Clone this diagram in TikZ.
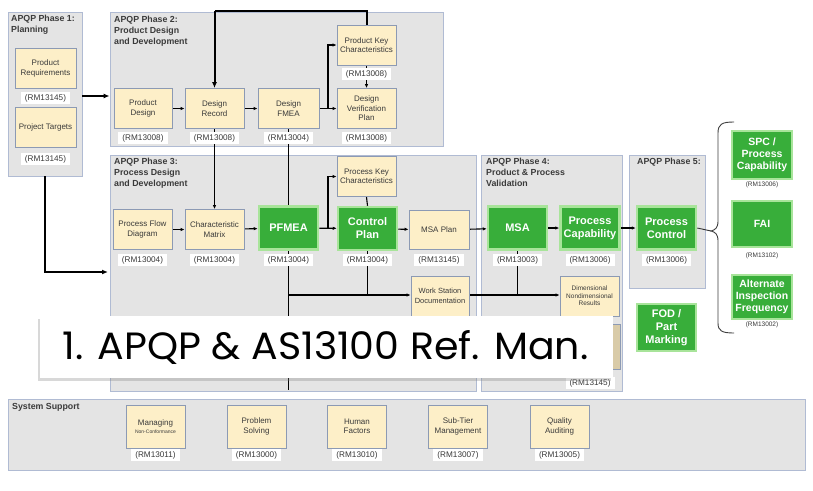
\documentclass[tikz,border=0pt]{standalone}
\usepackage{fontspec}
\setmainfont{Liberation Sans}
\newfontfamily\gothic{Poppins}
\usetikzlibrary{arrows.meta,shadows,calc}
\pgfdeclarelayer{paper}
\pgfdeclarelayer{back}
\pgfdeclarelayer{mid}
\pgfsetlayers{paper,back,mid,main}

\definecolor{panelfill}{HTML}{E4E4E4}
\definecolor{panelline}{HTML}{B0BBD3}
\definecolor{tanfill}{HTML}{FDEFC8}
\definecolor{tandark}{HTML}{D9CBA8}
\definecolor{tanline}{HTML}{8C9AB4}
\definecolor{gbox}{HTML}{38AE3A}
\definecolor{gglow}{HTML}{A8E49A}
\definecolor{txt}{HTML}{3A3A3A}

\begin{document}
\begin{tikzpicture}[x=1pt,y=-1pt,
  panel/.style={draw=panelline, fill=panelfill, line width=0.9pt, inner sep=0},
  ptitle/.style={anchor=north west, align=left, font=\fontsize{8.8}{11}\selectfont\bfseries, text=txt, inner sep=0},
  tbox/.style={draw=tanline, fill=tanfill, line width=0.8pt, align=center, inner sep=0,
    font=\fontsize{8}{9.5}\selectfont, text=txt, minimum width=59, minimum height=40},
  gbx/.style={draw=gglow, line width=2.5pt, fill=gbox, align=center, inner sep=0,
    font=\fontsize{11}{13}\selectfont\bfseries, text=white, minimum width=59, minimum height=43},
  rbx/.style={gbx, font=\fontsize{10.5}{12}\selectfont\bfseries, minimum width=60},
  rm/.style={fill=white, inner xsep=4pt, inner ysep=2pt, font=\fontsize{8.2}{9}\selectfont, text=txt},
  rms/.style={inner sep=0.5pt, font=\fontsize{6.5}{8}\selectfont, text=txt},
  link/.style={line width=1.1pt, -{Latex[length=4pt,width=3.5pt]}},
  plain/.style={line width=1.1pt},
  heavy/.style={line width=2pt, -{Latex[length=6pt,width=5pt]}},
  heavyline/.style={line width=2pt},
]
\begin{pgfonlayer}{paper}
  \fill[white] (0,0) rectangle (813,490);
\end{pgfonlayer}
\useasboundingbox (0,0) rectangle (813,490);

% ---------- phase panels ----------
\begin{pgfonlayer}{back}
  \node[panel, minimum width=74, minimum height=164] (p1) at (45,94) {};
  \node[panel, minimum width=333, minimum height=134] (p2) at (276.5,79) {};
  \node[panel, minimum width=366, minimum height=236] (p3) at (293,273) {};
  \node[panel, minimum width=141, minimum height=236] (p4) at (551.5,273) {};
  \node[panel, minimum width=76, minimum height=133] (p5) at (667,221.5) {};
  \node[panel, minimum width=797, minimum height=71] (ps) at (406.5,434.5) {};
\end{pgfonlayer}

\node[ptitle] (t1) at (11,15) {APQP Phase 1:\\Planning};
\node[ptitle] (t2) at (114,16) {APQP Phase 2:\\Product Design\\and Development};
\node[ptitle] (t3) at (114,158) {APQP Phase 3:\\Process Design\\and Development};
\node[ptitle] (t4) at (486,158) {APQP Phase 4:\\Product \& Process\\Validation};
\node[ptitle] (t5) at (637,158) {APQP Phase 5:};
\node[ptitle] (ts) at (12,403) {System Support};

% ---------- phase 1 ----------
\node[tbox, minimum width=61] (preq) at (45.5,68.5) {Product\\Requirements};
\node[rm] (preqL) at (45.5,98) {(RM13145)};
\node[tbox, minimum width=61] (ptar) at (45.5,127.5) {Project Targets};
\node[rm] (ptarL) at (45.5,159) {(RM13145)};

% ---------- phase 2 ----------
\node[tbox, minimum width=58] (pd) at (143,108.5) {Product\\Design};
\node[rm] (pdL) at (143,138) {(RM13008)};
\node[tbox] (dr) at (214.5,108.5) {Design\\Record};
\node[rm] (drL) at (214.5,138) {(RM13008)};
\node[tbox, minimum width=61] (dfm) at (288.5,108.5) {Design\\FMEA};
\node[rm] (dfmL) at (288.5,138) {(RM13004)};
\node[tbox] (pkc) at (366.5,45) {Product Key\\Characteristics};
\node[rm] (pkcL) at (366.5,74) {(RM13008)};
\node[tbox] (dvp) at (366.5,108.5) {Design\\Verification\\Plan};
\node[rm] (dvpL) at (366.5,138) {(RM13008)};

% ---------- phase 3 ----------
\node[tbox] (pfd) at (142.5,229.5) {Process Flow\\Diagram};
\node[rm] (pfdL) at (142.5,260) {(RM13004)};
\node[tbox] (cm) at (214.5,229.5) {Characteristic\\Matrix};
\node[rm] (cmL) at (214.5,260) {(RM13004)};
\node[gbx] (pfmea) at (288.5,228) {PFMEA};
\node[rm] (pfmeaL) at (288.5,260) {(RM13004)};
\node[gbx] (cp) at (367.5,228.5) {Control\\Plan};
\node[rm] (cpL) at (367.5,260) {(RM13004)};
\node[tbox] (prkc) at (366.5,176.5) {Process Key\\Characteristics};
\node[tbox, minimum width=60, minimum height=39] (msap) at (439,230) {MSA Plan};
\node[rm] (msapL) at (439,260) {(RM13145)};
\node[tbox, minimum width=58, font=\fontsize{7.5}{9.5}\selectfont] (wsd) at (440,296) {Work Station\\Documentation};

% ---------- phase 4 ----------
\node[gbx] (msa) at (517.5,228) {MSA};
\node[rm] (msaL) at (517.5,260) {(RM13003)};
\node[gbx] (pcap) at (590,228) {Process\\Capability};
\node[rm] (pcapL) at (590,260) {(RM13006)};
\node[tbox, font=\fontsize{6.5}{7.5}\selectfont] (dnr) at (589.5,296) {Dimensional\\Nondimensional\\Results};
\node[tbox, fill=tandark, minimum width=60, minimum height=45] (hid) at (590,347) {};
\node[rm] (hidL) at (590,383) {(RM13145)};

% ---------- phase 5 and outputs ----------
\node[gbx] (pctl) at (666.5,228) {Process\\Control};
\node[rm] (pctlL) at (666.5,260) {(RM13006)};
\node[gbx, minimum height=47] (fod) at (666.5,327.5) {FOD /\\Part\\Marking};

\node[rbx, minimum height=48] (spc) at (762,155) {SPC /\\Process\\Capability};
\node[rms] (spcL) at (762,185) {(RM13006)};
\node[rbx, minimum height=46] (fai) at (762,224) {FAI};
\node[rms] (faiL) at (762,256) {(RM13102)};
\node[rbx, minimum height=44] (aif) at (762,297) {Alternate\\Inspection\\Frequency};
\node[rms] (aifL) at (762,325) {(RM13002)};

% ---------- system support ----------
\node[tbox, minimum height=43] (s1) at (155.5,426.5) {Managing\\[-1pt]{\fontsize{5}{6}\selectfont Non-Conformance}};
\node[rm] (s1L) at (155.5,455) {(RM13011)};
\node[tbox, minimum height=43] (s2) at (256.5,426.5) {Problem\\Solving};
\node[rm] (s2L) at (256.5,455) {(RM13000)};
\node[tbox, minimum height=43] (s3) at (357,426.5) {Human\\Factors};
\node[rm] (s3L) at (357,455) {(RM13010)};
\node[tbox, minimum height=43] (s4) at (458,426.5) {Sub-Tier\\Management};
\node[rm] (s4L) at (458,455) {(RM13007)};
\node[tbox, minimum height=43] (s5) at (559.5,426.5) {Quality\\Auditing};
\node[rm] (s5L) at (559.5,455) {(RM13005)};

% ---------- free ends of connectors ----------
\coordinate (top) at (366.5,11);
\coordinate (p3in) at (108,272);
\coordinate (b1) at (328,108.5);
\coordinate (b2) at (328,228.5);
\coordinate (down) at (288.5,390);
\coordinate (j1) at (367.5,295);
\coordinate (j2) at (517.5,295);
\coordinate (tip) at (711,231);

% ---------- connectors ----------
\begin{pgfonlayer}{mid}
  \draw[heavy] (p1.east |- 0,96) -- (p2.west |- 0,96);
  \draw[heavy] (p1.south) |- (p3in);
  \draw[heavyline] (pkc.north) -- (top) -- (top -| dr.north);
  \draw[heavy] (top -| dr.north) -- (dr.north);
  \draw[link] (pd) -- (dr);
  \draw[link] (dr) -- (dfm);
  \draw[link] (dfm) -- (dvp);
  \draw[link] (b1) |- (pkc.west);
  \draw[link] (pkc.south) -- (dvp.north);
  \draw[link] (dr.south) -- (cm.north);
  \draw[plain] (dfm.south) -- (pfmea.north);

  \draw[link] (pfd) -- (cm);
  \draw[link] (cm) -- (pfmea);
  \draw[link] (pfmea) -- (cp);
  \draw[link] (b2) |- (prkc.west);
  \draw[plain] (prkc.south) -- (cp.north);
  \draw[link] (cp) -- (msap);
  \draw[link] (msap) -- (msa);
  \draw[link] (msa) -- (pcap);
  \draw[link] (pcap) -- (pctl);

  \draw[plain] (pfmea.south) -- (down);
  \draw[link] (down |- j1) -- (wsd.west |- j1);
  \draw[plain] (cp.south) -- (j1);
  \draw[link] (wsd.east |- j2) -- (dnr.west |- j2);
  \draw[plain] (msa.south) -- (j2);

  \draw[line width=0.9pt, black!80] (pctl.east) -- (tip);
\end{pgfonlayer}

% brace gathering the phase 5 outputs
\draw[line width=0.9pt, black!75]
  (734,122) .. controls (722,122) and (718,124) .. (718,133)
  -- (718,221) .. controls (718,228) and (715,230) .. (tip)
  .. controls (715,232) and (718,234) .. (718,241)
  -- (718,323) .. controls (718,331) and (722,333) .. (734,333);

% ---------- caption card ----------
\node[fill=white, minimum width=573, minimum height=62, inner sep=0,
  drop shadow={opacity=0.3, shadow xshift=-2pt, shadow yshift=-3pt}] (card) at (326.5,347) {};
\node[inner sep=0] (cap) at (325.5,347) {\gothic\fontsize{38}{42}\selectfont\scalebox{1.04}[1]{1. APQP \& AS13100 Ref. Man.}};

\end{tikzpicture}
\end{document}
